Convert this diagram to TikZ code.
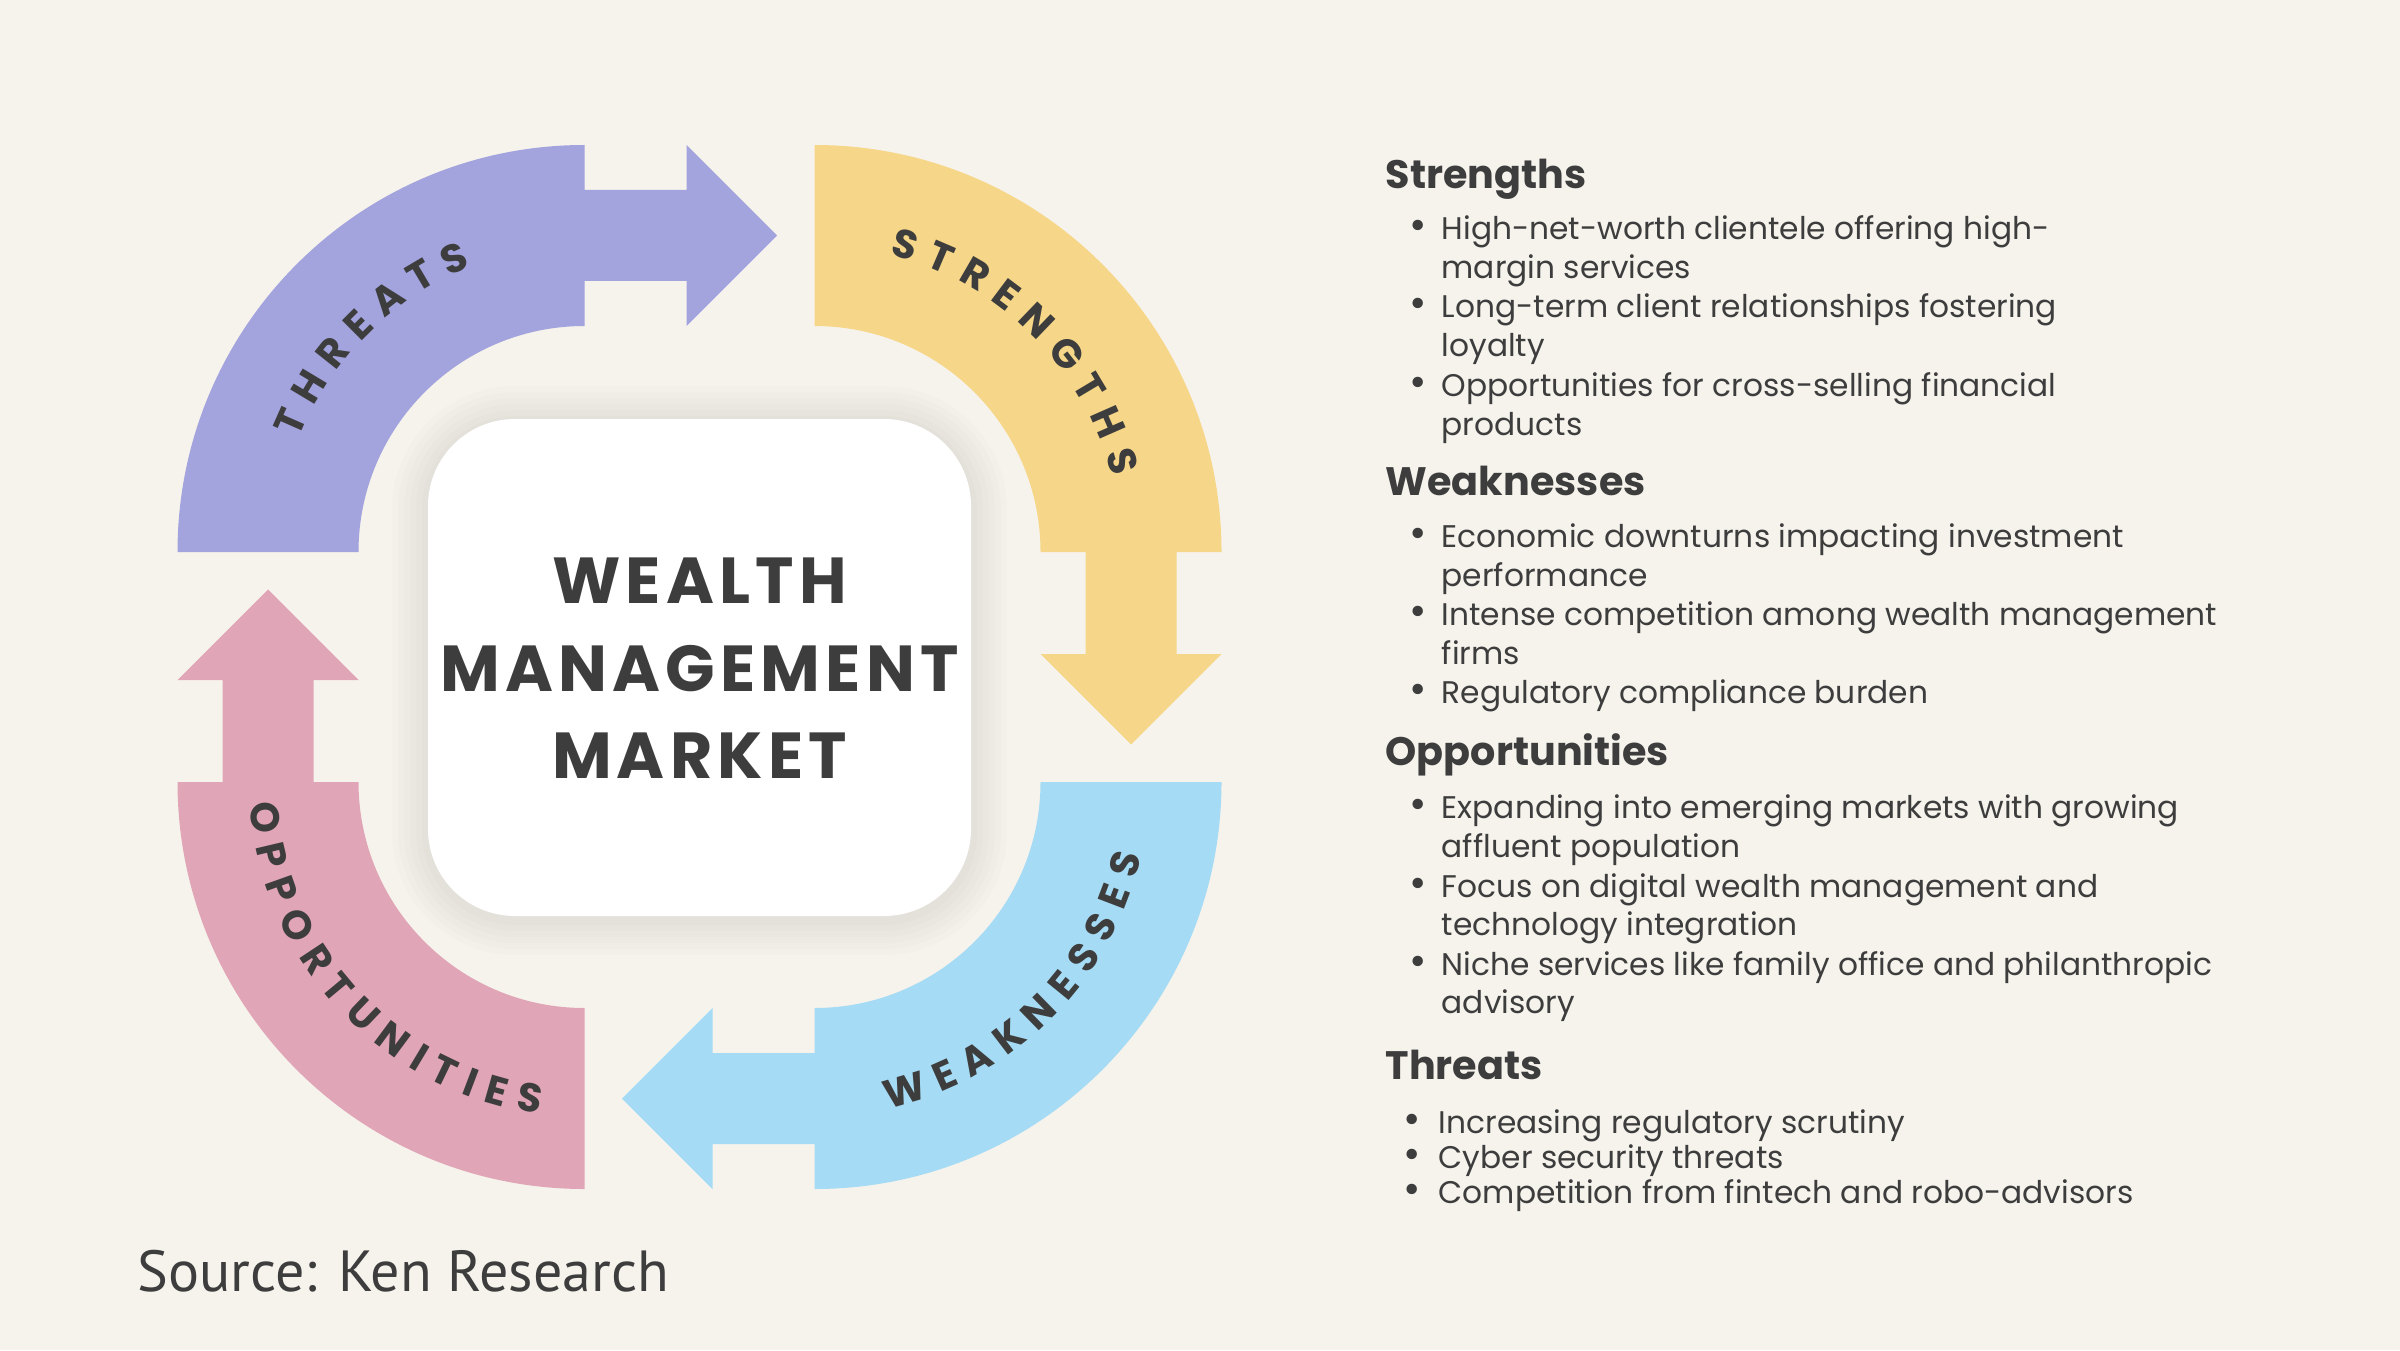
\documentclass[tikz,border=0pt]{standalone}
\usepackage{fontspec}
\usetikzlibrary{decorations.text}
\setmainfont{Poppins}
% the three ring fonts get slightly different sizes so that each keeps its own word space
\newfontfamily\ringfont[WordSpace=1.25]{Poppins}
\newfontfamily\lowringfont[WordSpace=2.15]{Poppins}
\newfontfamily\oppringfont[WordSpace=1.41]{Poppins}
\newfontfamily\titlefont[LetterSpace=8]{Poppins}
\newfontfamily\srcfont{PT Sans}

\definecolor{bgcol}{HTML}{F6F3EC}
\definecolor{threatcol}{HTML}{A3A3DE}
\definecolor{strengthcol}{HTML}{F6D688}
\definecolor{weakcol}{HTML}{A5DBF5}
\definecolor{oppcol}{HTML}{E0A5B7}
\definecolor{textcol}{HTML}{3D3D3D}

\newcommand\headfont{\bfseries\fontsize{11.3pt}{13pt}\selectfont}
\newcommand\itemfont{\fontsize{8.9pt}{11pt}\selectfont}
\newcommand\dotfont{\fontsize{12pt}{13pt}\selectfont}
\newcommand\ringtext{\ringfont\bfseries\fontsize{11.4pt}{13pt}\selectfont}
\newcommand\lowringtext{\lowringfont\bfseries\fontsize{11.41pt}{13pt}\selectfont}
\newcommand\oppringtext{\oppringfont\bfseries\fontsize{11.42pt}{13pt}\selectfont}
\newcommand\titletext{\titlefont\bfseries\fontsize{18.5pt}{22pt}\selectfont}

\tikzset{
    swot/.pic={
        \fill[#1] (180:4.07) arc[start angle=180, end angle=90, radius=4.07]
            -- (0,3.62) -- (1.02,3.62) -- (1.02,4.07) -- (1.925,3.165)
            -- (1.02,2.26) -- (1.02,2.71) -- (0,2.71) -- (0,2.26)
            arc[start angle=90, end angle=180, radius=2.26] -- cycle;
    },
    head/.style={anchor=base west, font=\headfont, text=textcol, inner sep=0pt},
    item/.style={anchor=base west, font=\itemfont, text=textcol, inner sep=0pt},
    dot/.style={anchor=base, font=\dotfont, text=textcol, inner sep=0pt},
    ringlabel/.style={decorate, decoration={text along path, text align=center,
        text color=textcol, text={|\ringtext|#1}}},
    lowringlabel/.style={decorate, decoration={text along path, text align=center,
        text color=textcol, text={|\lowringtext|#1}}},
    oppringlabel/.style={decorate, decoration={text along path, text align=center,
        text color=textcol, text={|\oppringtext|#1}}},
}

\begin{document}
\begin{tikzpicture}
    \fill[bgcol] (0,0) rectangle (24,13.5);
    \useasboundingbox (0,0) rectangle (24,13.5);

    % quarter arrows
    \coordinate (T) at (5.845,7.98);
    \coordinate (S) at (8.145,7.98);
    \coordinate (W) at (8.145,5.68);
    \coordinate (O) at (5.845,5.68);
    \pic at (T) {swot=threatcol};
    \pic[rotate=-90] at (S) {swot=strengthcol};
    \pic[rotate=180] at (W) {swot=weakcol};
    \pic[rotate=90] at (O) {swot=oppcol};

    \path[shift={(T)}, ringlabel={T H R E A T S}] (190:3.07) arc[start angle=190, end angle=80, radius=3.07];
    \path[shift={(S)}, ringlabel={S T R E N G T H S}] (100:3.07) arc[start angle=100, end angle=-10, radius=3.07];
    \path[shift={(W)}, lowringlabel={W E A K N E S S E S}] (-100:3.35) arc[start angle=-100, end angle=10, radius=3.35];
    \path[shift={(O)}, oppringlabel={O P P O R T U N I T I E S}] (168:3.35) arc[start angle=168, end angle=278, radius=3.35];

    % centre box with soft shadow
    \foreach \s in {1,...,6} {
        \fill[black, opacity=0.01, rounded corners=0.87cm+\s*0.06cm]
            (4.28-\s*0.06,4.31-\s*0.06) rectangle (9.71+\s*0.06,9.28+\s*0.06);
    }
    \node[fill=white, rounded corners=0.87cm, minimum width=5.43cm, minimum height=4.97cm, inner sep=0pt] (box) at (6.995,6.825) {};
    \node[anchor=base, font=\titletext, text=textcol, inner sep=0pt] (t1) at (6.995,7.47) {WEALTH};
    \node[anchor=base, font=\titletext, text=textcol, inner sep=0pt] (t2) at (6.995,6.59) {MANAGEMENT};
    \node[anchor=base, font=\titletext, text=textcol, inner sep=0pt] (t3) at (6.995,5.72) {MARKET};

    % right column
    \node[head] (hs) at (13.85,11.617) {Strengths};
    \foreach \y/\t [count=\i] in {11.10/High-net-worth clientele offering high-, 10.71/margin services,
        10.32/Long-term client relationships fostering, 9.93/loyalty,
        9.54/Opportunities for cross-selling financial, 9.15/products}
        \node[item] (s\i) at (14.41,\y) {\t};
    \foreach \y [count=\i] in {11.10,10.32,9.54}
        \node[dot] (sb\i) at (14.18,\y) {•};

    \node[head] (hw) at (13.85,8.55) {Weaknesses};
    \foreach \y/\t [count=\i] in {8.03/Economic downturns impacting investment, 7.64/performance,
        7.25/Intense competition among wealth management, 6.86/firms,
        6.47/Regulatory compliance burden}
        \node[item] (w\i) at (14.41,\y) {\t};
    \foreach \y [count=\i] in {8.03,7.25,6.47}
        \node[dot] (wb\i) at (14.18,\y) {•};

    \node[head] (ho) at (13.85,5.85) {Opportunities};
    \foreach \y/\t [count=\i] in {5.314/Expanding into emerging markets with growing, 4.93/affluent population,
        4.53/Focus on digital wealth management and, 4.15/technology integration,
        3.75/Niche services like family office and philanthropic, 3.37/advisory}
        \node[item] (o\i) at (14.41,\y) {\t};
    \foreach \y [count=\i] in {5.314,4.53,3.75}
        \node[dot] (ob\i) at (14.18,\y) {•};

    \node[head] (ht) at (13.85,2.71) {Threats};
    \foreach \y/\t [count=\i] in {2.17/Increasing regulatory scrutiny, 1.82/Cyber security threats,
        1.47/Competition from fintech and robo-advisors}
        \node[item] (th\i) at (14.38,\y) {\t};
    \foreach \y [count=\i] in {2.17,1.82,1.47}
        \node[dot] (tb\i) at (14.12,\y) {•};

    \node[anchor=base west, font=\srcfont\fontsize{16.5pt}{20pt}\selectfont, text=textcol, inner sep=0pt] (src) at (1.37,0.59) {Source: Ken Research};
\end{tikzpicture}
\end{document}
